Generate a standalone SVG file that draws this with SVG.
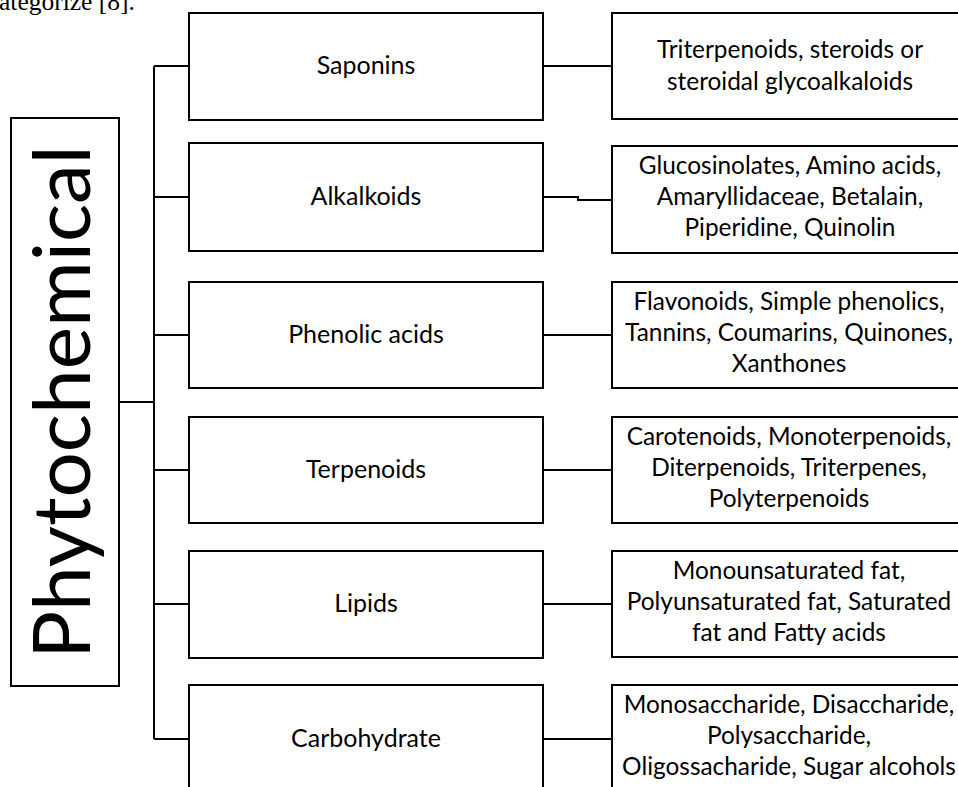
<svg xmlns="http://www.w3.org/2000/svg" width="958" height="787" viewBox="0 0 958 787">
<style>
.box{fill:#fff;stroke:#000;stroke-width:2}
.lbl{font-family:Lato,"Open Sans",sans-serif;font-size:25px;fill:#000;text-anchor:middle}
.rt{font-family:Lato,"Open Sans",sans-serif;font-size:24.4px;fill:#000;text-anchor:middle}
.con{fill:none;stroke:#000;stroke-width:2}
</style>
<rect width="958" height="787" fill="#fff"/>
<text x="-1" y="10" font-family="'Liberation Serif',serif" font-size="25.5" fill="#000">ategorize [8].</text>
<g id="connectors">
<path class="con" d="M154,66 V739"/>
<path class="con" d="M119,402 H154"/>
<path class="con" d="M154,66 H189 M154,197 H189 M154,335 H189 M154,470 H189 M154,604 H189 M154,739 H189"/>
<path class="con" d="M543,66 H612 M543,197 H578 V200 H612 M543,335 H612 M543,470 H612 M543,604 H612 M543,739 H612"/>
</g>
<g id="phytochemical">
<rect class="box" x="11" y="118" width="108" height="568"/>
<text transform="translate(90,402) rotate(-90)" font-family="Lato,'Open Sans',sans-serif" font-size="80" text-anchor="middle" fill="#000">Phytochemical</text>
</g>
<g id="saponins">
<rect class="box" x="189" y="13" width="354" height="107"/>
<text class="lbl" x="366" y="74">Saponins</text>
</g>
<g id="alkalkoids">
<rect class="box" x="189" y="143" width="354" height="108"/>
<text class="lbl" x="366" y="205">Alkalkoids</text>
</g>
<g id="phenolic">
<rect class="box" x="189" y="282" width="354" height="106"/>
<text class="lbl" x="366" y="343">Phenolic acids</text>
</g>
<g id="terpenoids">
<rect class="box" x="189" y="417" width="354" height="106"/>
<text class="lbl" x="366" y="478">Terpenoids</text>
</g>
<g id="lipids">
<rect class="box" x="189" y="551" width="354" height="107"/>
<text class="lbl" x="366" y="612">Lipids</text>
</g>
<g id="carbohydrate">
<rect class="box" x="189" y="685" width="354" height="110"/>
<text class="lbl" x="366" y="747">Carbohydrate</text>
</g>
<g id="saponins-types">
<rect class="box" x="612" y="13" width="370" height="106"/>
<text class="rt" x="790" y="58">Triterpenoids, steroids or</text>
<text class="rt" x="790" y="90">steroidal glycoalkaloids</text>
</g>
<g id="alkalkoids-types">
<rect class="box" x="612" y="146" width="370" height="107"/>
<text class="rt" x="790" y="174">Glucosinolates, Amino acids,</text>
<text class="rt" x="790" y="205">Amaryllidaceae, Betalain,</text>
<text class="rt" x="790" y="236">Piperidine, Quinolin</text>
</g>
<g id="phenolic-types">
<rect class="box" x="612" y="282" width="370" height="106"/>
<text class="rt" x="789" y="310">Flavonoids, Simple phenolics,</text>
<text class="rt" x="789" y="341">Tannins, Coumarins, Quinones,</text>
<text class="rt" x="789" y="372">Xanthones</text>
</g>
<g id="terpenoids-types">
<rect class="box" x="612" y="417" width="370" height="106"/>
<text class="rt" x="789" y="445">Carotenoids, Monoterpenoids,</text>
<text class="rt" x="789" y="476">Diterpenoids, Triterpenes,</text>
<text class="rt" x="789" y="507">Polyterpenoids</text>
</g>
<g id="lipids-types">
<rect class="box" x="612" y="551" width="370" height="106"/>
<text class="rt" x="789" y="579">Monounsaturated fat,</text>
<text class="rt" x="789" y="610">Polyunsaturated fat, Saturated</text>
<text class="rt" x="789" y="641">fat and Fatty acids</text>
</g>
<g id="carbohydrate-types">
<rect class="box" x="612" y="685" width="370" height="110"/>
<text class="rt" x="789" y="713">Monosaccharide, Disaccharide,</text>
<text class="rt" x="789" y="744">Polysaccharide,</text>
<text class="rt" x="789" y="775">Oligossacharide, Sugar alcohols</text>
</g>
</svg>
